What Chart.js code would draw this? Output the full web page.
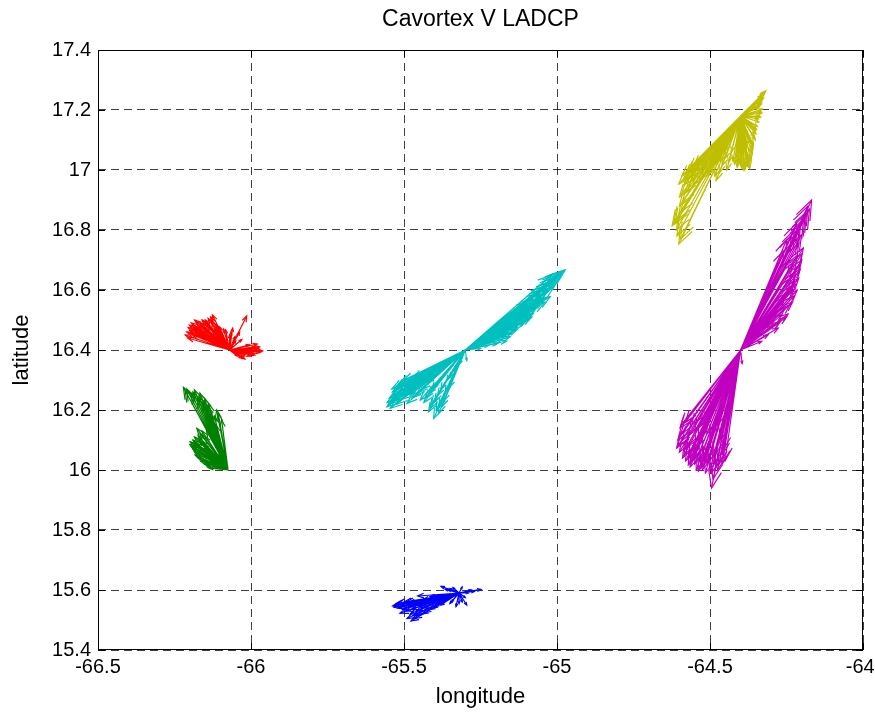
<!DOCTYPE html>
<html>
<head>
<meta charset="utf-8">
<title>Cavortex V LADCP</title>
<script src="https://cdn.jsdelivr.net/npm/chart.js@4.4.1/dist/chart.umd.min.js"></script>
<style>
  html, body { margin: 0; padding: 0; background: #fff; }
  canvas { display: block; }
</style>
</head>
<body>
<canvas id="ladcp" width="875" height="712"></canvas>
<script>
// station positions (lon, lat) and colours, one per LADCP cast
var stationNames = ['red', 'green', 'blue', 'cyan', 'magenta', 'yellow'];
var stationLon = [-66.07, -66.075, -65.32, -65.30, -64.40, -64.40];
var stationLat = [16.40, 16.00, 15.59, 16.40, 16.40, 17.18];
var stationColor = ['#ff0000', '#008000', '#0000ff', '#00bfbf', '#bf00bf', '#bfbf00'];

// velocity vectors (already scaled to degrees) for each depth bin
var redU = [0.108, 0.098, 0.090, 0.082, 0.039, 0.056, 0.033, 0.018, -0.013, -0.026, -0.056, -0.070, -0.082,
  -0.114, -0.131, -0.140, -0.137, -0.098, -0.065, -0.033, 0.010, 0.065, 0.072, -0.120, -0.045, 0.050,
  -0.125, -0.110, -0.100, -0.090, -0.075, -0.060, -0.050, -0.040, -0.120, -0.110, -0.085, -0.130, -0.145,
  0.000, 0.020, 0.075, 0.085, 0.060, 0.045, 0.095, 0.030,
  -0.135, -0.128, -0.118, -0.105, -0.095, -0.088, -0.080, -0.070, -0.062, -0.055, -0.030, -0.020,
  0.005, 0.040, 0.080, 0.100, 0.088, 0.068, 0.050, 0.025];
var redV = [-0.003, 0.010, 0.020, -0.017, -0.027, 0.113, 0.060, 0.045, 0.067, 0.043, 0.117, 0.105, 0.093,
  0.100, 0.083, 0.060, 0.040, 0.050, 0.033, 0.077, 0.073, 0.017, -0.007, 0.070, 0.085, -0.020,
  0.090, 0.095, 0.080, 0.100, 0.085, 0.095, 0.070, 0.060, 0.050, 0.060, 0.060, 0.065, 0.050,
  0.050, 0.030, 0.005, 0.010, -0.010, -0.025, 0.005, -0.015,
  0.075, 0.058, 0.080, 0.070, 0.090, 0.075, 0.100, 0.080, 0.110, 0.060, 0.055, 0.070,
  0.060, 0.035, -0.012, -0.008, 0.000, -0.020, -0.030, -0.020];

var greenU = [-0.146, -0.110, -0.092, -0.077, -0.064, -0.037, -0.032, -0.053, -0.021, -0.048, -0.102, -0.092,
  -0.075, -0.124, -0.119, -0.097, -0.108, -0.086, -0.070, -0.059, -0.064, -0.040, -0.080, -0.030,
  -0.135, -0.120, -0.100, -0.085, -0.070, -0.060, -0.045, -0.040, -0.060, -0.085, -0.110, -0.095,
  -0.105, -0.125, -0.115, -0.100, -0.095, -0.080, -0.075, -0.065, -0.050, -0.045, -0.115, -0.090,
  -0.140, -0.115, -0.095, -0.080, -0.068, -0.055, -0.050, -0.070, -0.098, -0.112, -0.120, -0.110,
  -0.102, -0.090, -0.078, -0.068, -0.055, -0.040, -0.085, -0.075];
var greenV = [0.276, 0.267, 0.256, 0.239, 0.222, 0.200, 0.189, 0.167, 0.167, 0.133, 0.139, 0.122,
  0.111, 0.094, 0.078, 0.067, 0.050, 0.033, 0.017, 0.006, 0.061, 0.090, 0.085, 0.050,
  0.270, 0.255, 0.240, 0.225, 0.210, 0.190, 0.180, 0.150, 0.140, 0.130, 0.110, 0.100,
  0.090, 0.085, 0.070, 0.055, 0.040, 0.050, 0.025, 0.040, 0.020, 0.035, 0.100, 0.075,
  0.265, 0.260, 0.245, 0.230, 0.215, 0.185, 0.160, 0.130, 0.115, 0.090, 0.080, 0.060,
  0.045, 0.030, 0.020, 0.010, 0.030, 0.025, 0.095, 0.070];

var blueU = [0.072, 0.040, -0.059, -0.030, -0.217, -0.173, -0.157, -0.147, -0.193, -0.118, -0.095, -0.030,
  0.025, -0.010, -0.135, -0.060, -0.110, -0.080, 0.010,
  -0.210, -0.200, -0.185, -0.180, -0.165, -0.150, -0.160, -0.140, -0.130, -0.125, -0.120, -0.100,
  -0.090, -0.085, -0.070, -0.050, -0.040, 0.010, 0.020, 0.030, -0.020, -0.045, -0.170, -0.145,
  -0.212, -0.205, -0.190, -0.175, -0.168, -0.155, -0.150, -0.135, -0.128, -0.110, -0.105, -0.095,
  -0.075, -0.060, -0.025, 0.000, 0.050, -0.035];
var blueV = [0.012, 0.010, 0.022, 0.015, -0.043, -0.030, -0.093, -0.075, -0.067, -0.022, -0.012, -0.035,
  -0.040, -0.045, -0.010, -0.030, -0.055, -0.045, 0.020,
  -0.040, -0.050, -0.055, -0.030, -0.045, -0.040, -0.070, -0.060, -0.030, -0.050, -0.070, -0.040,
  -0.030, -0.050, -0.020, -0.025, -0.010, -0.030, -0.015, 0.000, 0.018, 0.012, -0.085, -0.085,
  -0.048, -0.035, -0.045, -0.060, -0.035, -0.055, -0.075, -0.070, -0.040, -0.065, -0.030, -0.055,
  -0.035, -0.040, -0.030, -0.035, 0.005, 0.010];

var cyanU = [0.327, 0.310, 0.283, 0.294, 0.256, 0.278, 0.261, 0.234, 0.223, 0.202, 0.169, 0.158, 0.147,
  0.104, 0.050, 0.240, 0.190, -0.256, -0.245, -0.229, -0.212, -0.200, -0.190, -0.168, -0.147, -0.120,
  -0.103, -0.087, -0.076, -0.049, -0.016, 0.005, -0.230, -0.180,
  0.320, 0.300, 0.290, 0.275, 0.270, 0.265, 0.250, 0.245, 0.230, 0.215, 0.210, 0.195, 0.185, 0.175,
  0.160, 0.140, 0.130, 0.120, 0.090, 0.075, 0.250, 0.220, 0.200, 0.180,
  -0.250, -0.240, -0.235, -0.220, -0.225, -0.210, -0.195, -0.185, -0.175, -0.160, -0.155, -0.140,
  -0.130, -0.125, -0.110, -0.095, -0.090, -0.070, -0.060, -0.035, -0.215, -0.200, -0.195, -0.240,
  0.315, 0.305, 0.285, 0.268, 0.262, 0.255, 0.240, 0.228, 0.218, 0.205, 0.190, 0.170, 0.150, 0.135,
  0.110, 0.200, 0.170, 0.150, 0.290, 0.260,
  -0.255, -0.248, -0.238, -0.228, -0.218, -0.205, -0.190, -0.180, -0.170, -0.150, -0.145, -0.135,
  -0.115, -0.100, -0.085, -0.080, -0.065, -0.050, -0.110, -0.120];
var cyanV = [0.267, 0.261, 0.250, 0.233, 0.211, 0.178, 0.172, 0.144, 0.122, 0.100, 0.067, 0.089, 0.044,
  0.022, 0.005, 0.190, 0.130, -0.189, -0.194, -0.133, -0.122, -0.144, -0.178, -0.089, -0.167, -0.206,
  -0.228, -0.211, -0.189, -0.122, -0.044, -0.035, -0.160, -0.120,
  0.262, 0.250, 0.240, 0.225, 0.200, 0.190, 0.185, 0.165, 0.160, 0.140, 0.120, 0.115, 0.100, 0.085,
  0.070, 0.060, 0.045, 0.035, 0.030, 0.015, 0.200, 0.170, 0.150, 0.120,
  -0.180, -0.170, -0.150, -0.145, -0.180, -0.165, -0.150, -0.135, -0.160, -0.150, -0.120, -0.130,
  -0.160, -0.110, -0.180, -0.200, -0.150, -0.170, -0.100, -0.070, -0.110, -0.100, -0.120, -0.130,
  0.255, 0.245, 0.230, 0.215, 0.205, 0.175, 0.150, 0.135, 0.110, 0.105, 0.090, 0.075, 0.055, 0.030,
  0.025, 0.160, 0.110, 0.100, 0.210, 0.160,
  -0.175, -0.160, -0.140, -0.125, -0.120, -0.135, -0.110, -0.150, -0.100, -0.140, -0.100, -0.175,
  -0.195, -0.170, -0.190, -0.130, -0.140, -0.090, -0.130, -0.145];

var magentaU = [0.232, 0.225, 0.199, 0.183, 0.150, 0.205, 0.194, 0.176, 0.134, 0.134, 0.123, 0.090, 0.069,
  0.160, 0.210, 0.180, -0.095, -0.209, -0.198, -0.171, -0.138, -0.120, -0.080, -0.051, -0.040, -0.015,
  0.005, -0.185, -0.150, -0.160, -0.110, -0.190,
  0.220, 0.215, 0.205, 0.195, 0.190, 0.185, 0.190, 0.200, 0.185, 0.170, 0.180, 0.165, 0.160, 0.150,
  0.140, 0.145, 0.120, 0.110, 0.100, 0.130, 0.155, 0.170, 0.140, 0.165, 0.175,
  -0.200, -0.205, -0.195, -0.180, -0.175, -0.165, -0.155, -0.145, -0.130, -0.125, -0.115, -0.100,
  -0.105, -0.090, -0.085, -0.070, -0.060, -0.065, -0.075, -0.050, -0.030, -0.140, -0.170, -0.120, -0.100,
  0.180, 0.185, 0.175, 0.160, 0.150, 0.125, 0.195, 0.200, 0.190, 0.170,
  -0.205, -0.190, -0.180, -0.170, -0.160, -0.150, -0.135, -0.125, -0.110, -0.095, -0.088, -0.075,
  -0.060, -0.055, -0.195, -0.180, -0.150, -0.130];
var magentaV = [0.500, 0.470, 0.384, 0.423, 0.367, 0.340, 0.284, 0.229, 0.173, 0.118, 0.073, 0.051, 0.029,
  0.300, 0.440, 0.260, -0.460, -0.327, -0.260, -0.383, -0.404, -0.370, -0.390, -0.370, -0.127, -0.050,
  -0.045, -0.350, -0.330, -0.250, -0.280, -0.300,
  0.480, 0.455, 0.430, 0.410, 0.395, 0.370, 0.355, 0.320, 0.315, 0.290, 0.250, 0.240, 0.210, 0.190,
  0.160, 0.140, 0.130, 0.100, 0.080, 0.095, 0.120, 0.200, 0.330, 0.380, 0.400,
  -0.340, -0.300, -0.280, -0.370, -0.320, -0.390, -0.360, -0.400, -0.390, -0.340, -0.410, -0.400,
  -0.360, -0.430, -0.350, -0.380, -0.350, -0.300, -0.250, -0.200, -0.090, -0.300, -0.280, -0.240, -0.290,
  0.220, 0.200, 0.180, 0.150, 0.110, 0.090, 0.270, 0.300, 0.240, 0.160,
  -0.320, -0.360, -0.330, -0.360, -0.370, -0.380, -0.370, -0.400, -0.380, -0.410, -0.380, -0.400,
  -0.380, -0.330, -0.250, -0.240, -0.270, -0.250];

var yellowU = [0.082, 0.070, 0.065, 0.071, 0.065, 0.049, 0.038, 0.038, 0.027, 0.011, -0.011, -0.030, 0.000,
  0.020, -0.224, -0.202, -0.191, -0.202, -0.218, -0.196, -0.190, -0.180, -0.163, -0.135, -0.109, -0.080,
  -0.045, -0.150, -0.120,
  0.078, 0.075, 0.068, 0.060, 0.070, 0.060, 0.055, 0.045, 0.040, 0.032, 0.030, 0.020, 0.005, -0.005,
  -0.015, -0.020, 0.015, 0.050, 0.010, -0.040,
  -0.210, -0.205, -0.195, -0.200, -0.185, -0.175, -0.170, -0.160, -0.150, -0.140, -0.130, -0.125,
  -0.100, -0.095, -0.070, -0.060, -0.110, -0.090, -0.165, -0.055,
  0.080, 0.072, 0.068, 0.066, 0.062, 0.058, 0.052, 0.048, 0.042, 0.036, 0.034, 0.025, 0.015, 0.000,
  -0.010, -0.025, 0.030, 0.040, 0.020, -0.010,
  -0.215, -0.208, -0.200, -0.192, -0.188, -0.180, -0.172, -0.160, -0.145, -0.135, -0.120, -0.115,
  -0.085, -0.080, -0.065, -0.050, -0.155, -0.100];
var yellowV = [0.084, 0.070, 0.051, 0.023, -0.004, -0.049, -0.093, -0.127, -0.160, -0.182, -0.171, -0.120,
  -0.100, -0.060, -0.366, -0.427, -0.199, -0.227, -0.354, -0.410, -0.288, -0.254, -0.188, -0.215, -0.199,
  -0.215, -0.180, -0.160, -0.140,
  0.078, 0.060, 0.040, 0.030, 0.010, -0.020, -0.035, -0.070, -0.110, -0.140, -0.175, -0.165, -0.175, -0.150,
  -0.140, -0.160, -0.120, -0.060, -0.090, -0.155,
  -0.380, -0.345, -0.320, -0.270, -0.230, -0.210, -0.240, -0.215, -0.200, -0.185, -0.175, -0.200,
  -0.175, -0.160, -0.190, -0.165, -0.150, -0.130, -0.170, -0.120,
  0.080, 0.065, 0.045, 0.015, 0.000, -0.010, -0.045, -0.080, -0.100, -0.120, -0.150, -0.170, -0.178, -0.165,
  -0.160, -0.150, -0.080, -0.030, -0.100, -0.120,
  -0.360, -0.400, -0.300, -0.260, -0.215, -0.195, -0.185, -0.190, -0.170, -0.160, -0.165, -0.190,
  -0.200, -0.160, -0.150, -0.140, -0.230, -0.145];

var allU = [redU, greenU, blueU, cyanU, magentaU, yellowU];
var allV = [redV, greenV, blueV, cyanV, magentaV, yellowV];

var xTicks = [-66.5, -66, -65.5, -65, -64.5, -64];
var yTicks = [15.4, 15.6, 15.8, 16, 16.2, 16.4, 16.6, 16.8, 17, 17.2, 17.4];

// each arrow = origin, tip, gap
var datasets = [];
for (var s = 0; s < stationNames.length; s++) {
  var pts = [];
  for (var k = 0; k < allU[s].length; k++) {
    pts.push({ x: stationLon[s], y: stationLat[s] });
    pts.push({ x: stationLon[s] + allU[s][k], y: stationLat[s] + allV[s][k] });
    pts.push({ x: stationLon[s], y: null });
  }
  datasets.push({
    label: stationNames[s],
    data: pts,
    showLine: true,
    spanGaps: false,
    borderColor: stationColor[s],
    borderWidth: 1.2,
    pointRadius: 0,
    pointHoverRadius: 0,
  });
}

var arrowHeads = {
  id: 'arrowHeads',
  afterDatasetsDraw: function (chart) {
    var ctx = chart.ctx;
    var area = chart.chartArea;
    ctx.save();
    ctx.beginPath();
    ctx.rect(area.left, area.top, area.right - area.left, area.bottom - area.top);
    ctx.clip();
    chart.data.datasets.forEach(function (ds, i) {
      var els = chart.getDatasetMeta(i).data;
      ctx.strokeStyle = ds.borderColor;
      ctx.lineWidth = 1.2;
      for (var j = 0; j + 1 < els.length; j += 3) {
        var x0 = els[j].x, y0 = els[j].y, x1 = els[j + 1].x, y1 = els[j + 1].y;
        var dx = x1 - x0, dy = y1 - y0;
        var len = Math.sqrt(dx * dx + dy * dy);
        if (len < 1) continue;
        var h = 0.11 * len + 1.5;
        var w = 0.38 * h;
        var ux = dx / len, uy = dy / len;
        ctx.beginPath();
        ctx.moveTo(x1 - h * ux - w * uy, y1 - h * uy + w * ux);
        ctx.lineTo(x1, y1);
        ctx.lineTo(x1 - h * ux + w * uy, y1 - h * uy - w * ux);
        ctx.stroke();
      }
    });
    ctx.restore();
  }
};

var boxAndTicks = {
  id: 'boxAndTicks',
  beforeDraw: function (chart) {
    var ctx = chart.ctx;
    ctx.save();
    ctx.fillStyle = '#fff';
    ctx.fillRect(0, 0, chart.width, chart.height);
    ctx.restore();
  },
  afterDraw: function (chart) {
    var ctx = chart.ctx;
    var a = chart.chartArea;
    var xs = chart.scales.x, ys = chart.scales.y;
    var t = 7;
    ctx.save();
    ctx.strokeStyle = '#000';
    ctx.lineWidth = 1;
    ctx.strokeRect(Math.round(a.left) + 0.5, Math.round(a.top) + 0.5,
      Math.round(a.right - a.left) - 1, Math.round(a.bottom - a.top) - 1);
    ctx.beginPath();
    xTicks.forEach(function (v) {
      var px = Math.round(xs.getPixelForValue(v)) + 0.5;
      ctx.moveTo(px, a.bottom); ctx.lineTo(px, a.bottom - t);
      ctx.moveTo(px, a.top); ctx.lineTo(px, a.top + t);
    });
    yTicks.forEach(function (v) {
      var py = Math.round(ys.getPixelForValue(v)) + 0.5;
      ctx.moveTo(a.left, py); ctx.lineTo(a.left + t, py);
      ctx.moveTo(a.right, py); ctx.lineTo(a.right - t, py);
    });
    ctx.stroke();
    ctx.restore();
  }
};

var tickFont = { family: 'Liberation Sans, Arial, sans-serif', size: 20 };
var labelFont = { family: 'Liberation Sans, Arial, sans-serif', size: 22 };

new Chart(document.getElementById('ladcp'), {
  type: 'scatter',
  data: { datasets: datasets },
  plugins: [arrowHeads, boxAndTicks],
  options: {
    responsive: false,
    animation: false,
    events: [],
    layout: { padding: { left: 0, right: 0, top: 0, bottom: 2 } },
    plugins: {
      legend: { display: false },
      tooltip: { enabled: false },
      title: {
        display: true,
        fullSize: false,
        text: 'Cavortex V LADCP',
        color: '#000',
        font: { family: 'Liberation Sans, Arial, sans-serif', size: 23, weight: 'normal' },
        padding: { top: 6.2, bottom: 16.2 }
      }
    },
    scales: {
      x: {
        type: 'linear',
        min: -66.5,
        max: -64,
        afterBuildTicks: function (scale) {
          scale.ticks = xTicks.map(function (v) { return { value: v }; });
        },
        afterFit: function (scale) {
          scale.height = 60;
          scale.paddingLeft = 0;
          scale.paddingRight = 12;
        },
        ticks: {
          color: '#000',
          font: tickFont,
          padding: 5,
          maxRotation: 0,
          // last label is nudged left so it stays inside the canvas
          callback: function (v) {
            var txt = String(Math.round(v * 10) / 10);
            return v === xTicks[xTicks.length - 1] ? txt + ' ' : txt;
          }
        },
        grid: { color: 'rgba(0,0,0,0.75)', lineWidth: 1, drawTicks: false },
        border: { display: false, dash: [8, 5] },
        title: {
          display: true,
          text: 'longitude',
          color: '#000',
          font: labelFont,
          padding: { top: 0, bottom: 0 }
        }
      },
      y: {
        type: 'linear',
        min: 15.4,
        max: 17.4,
        afterBuildTicks: function (scale) {
          scale.ticks = yTicks.map(function (v) { return { value: v }; });
        },
        afterFit: function (scale) {
          scale.width = 98;
          scale.paddingTop = 0;
          scale.paddingBottom = 0;
        },
        ticks: {
          color: '#000',
          font: tickFont,
          padding: 7,
          callback: function (v) { return String(Math.round(v * 10) / 10); }
        },
        grid: { color: 'rgba(0,0,0,0.75)', lineWidth: 1, drawTicks: false },
        border: { display: false, dash: [8, 5] },
        title: {
          display: true,
          text: 'latitude',
          color: '#000',
          font: labelFont,
          padding: { top: 8.8, bottom: 0 }
        }
      }
    }
  }
});
</script>
</body>
</html>
